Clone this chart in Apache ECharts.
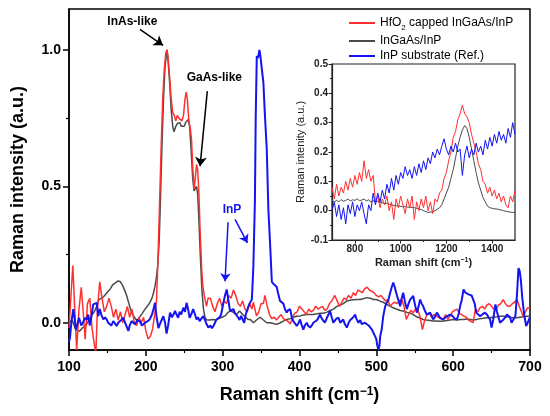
<!DOCTYPE html>
<html lang="en">
<head>
	<meta charset="UTF-8">
	<title>Raman spectra</title>
	<script src="https://cdn.jsdelivr.net/npm/echarts@6.0.0/dist/echarts.min.js"></script>
	<style>
		html, body { margin: 0; padding: 0; background: #fff; }
	</style>
</head>
<body>
	<div id="main" style="width: 550px; height: 416px;"></div>
	<script type="text/javascript">
	// series names
	var nameHfo2 = 'HfO2 capped InGaAs/InP';
	var nameIngaas = 'InGaAs/InP';
	var nameInp = 'InP substrate (Ref.)';

	// main panel, [Raman shift, intensity]
	var hfo2Main = [
		[100,-0.02],[103,0.12],[105,0.21],[107,0.08],[110,-0.10],[113,0.05],[116,0.13],[119,0.02],[121,-0.06],[124,0.07],
		[127,0.09],[130,-0.02],[133,-0.08],[135,-0.11],[137,0.05],[140,0.15],[143,0.09],[146,0.04],[149,0.06],[152,0.09],
		[155,0.06],[158,0.02],[161,0.05],[164,0.01],[167,0.04],[170,0.00],[173,0.03],[176,0.06],[179,0.02],[182,0.05],
		[185,0.00],[188,-0.01],[191,0.02],[194,0.00],[197,0.02],[200,-0.03],[203,-0.06],[206,-0.05],[209,-0.02],[212,0.04],
		[214,0.085],[216,0.25],[218,0.45],[220,0.65],[222,0.82],[224,0.93],[226,0.99],[227.6,1.0],[229,0.97],[231,0.90],
		[233,0.82],[235,0.77],[237,0.76],[239,0.74],[241,0.76],[243,0.75],[245,0.75],[247,0.74],[249,0.76],[251,0.82],
		[252.5,0.845],[254,0.82],[256,0.74],[258,0.71],[259.5,0.67],[261,0.57],[262.8,0.49],[264,0.52],[266,0.58],[267.5,0.56],
		[269,0.48],[270.5,0.35],[272.5,0.21],[274,0.14],[276,0.10],[279,0.06],[281,0.09],[284,0.09],[287,0.06],[290,0.04],
		[293,0.07],[296,0.09],[299,0.06],[302,0.08],[305,0.07],[308,0.10],[311,0.09],[314,0.12],[317,0.10],[320,0.07],
		[323,0.06],[326,0.08],[329,0.05],[332,0.04],[335,0.07],[338,0.05],[340,0.075],[342,0.05],[344,0.025],[347,0.04],
		[350,0.07],[353,0.07],[355,0.10],[358,0.06],[361,0.03],[364,0.015],[367,0.02],[370,0.01],[373,0.02],[376,0.03],
		[379,0.015],[382,0.01],[385,0.005],[388,-0.005],[391,0.02],[394,0.035],[397,0.04],[400,0.06],[403,0.05],[406,0.04],
		[409,0.03],[412,0.05],[415,0.04],[418,0.045],[421,0.06],[424,0.05],[427,0.055],[430,0.06],[433,0.045],[436,0.05],
		[439,0.07],[442,0.08],[446,0.10],[449,0.08],[452,0.06],[455,0.075],[458,0.09],[461,0.085],[464,0.10],[467,0.09],
		[470,0.11],[473,0.10],[476,0.12],[479,0.115],[482,0.11],[485,0.125],[488,0.13],[491,0.12],[494,0.115],[497,0.11],
		[500,0.10],[503,0.095],[506,0.10],[509,0.09],[512,0.08],[515,0.085],[518,0.06],[521,0.07],[524,0.075],[527,0.07],
		[530,0.08],[533,0.085],[536,0.06],[539,0.012],[542,0.03],[545,0.045],[548,0.037],[551,0.05],[554,0.05],[557,0.02],
		[560,-0.025],[563,0.01],[566,0.03],[569,0.035],[572,0.02],[575,0.03],[578,0.024],[581,0.02],[584,0.015],[587,0.01],
		[590,0.03],[593,0.012],[596,0.025],[599,0.04],[602,0.045],[605,0.05],[608,0.035],[611,0.03],[614,0.024],[617,0.02],
		[620,0.01],[623,0.005],[626,0.0],[629,0.05],[632,0.04],[635,0.055],[638,0.06],[641,0.05],[644,0.065],[647,0.07],
		[650,0.06],[653,0.05],[656,0.05],[659,0.065],[662,0.07],[665,0.085],[668,0.07],[671,0.06],[674,0.06],[677,0.07],
		[680,0.075],[683,0.085],[686,0.06],[689,0.04],[691,0.024],[694,0.04],[697,0.055],[700,0.05]
	];

	var ingaasMain = [
		[100,0.0],[104,0.01],[108,-0.02],[111,-0.03],[114,-0.03],[117,-0.02],[121,-0.012],[124,0.0],[127,0.015],[130,0.03],
		[133,0.04],[136,0.06],[139,0.085],[142,0.09],[145,0.095],[148,0.105],[151,0.115],[154,0.125],[157,0.14],[160,0.145],
		[164,0.153],[167,0.15],[170,0.135],[173,0.115],[175,0.10],[178,0.07],[181,0.04],[184,0.025],[187,0.012],[190,0.012],
		[193,0.025],[196,0.037],[199,0.05],[202,0.06],[205,0.073],[208,0.09],[210,0.11],[212,0.134],[214,0.17],[215.5,0.21],
		[217.4,0.30],[219,0.45],[221,0.65],[223,0.82],[225,0.94],[227.6,1.0],[229,0.96],[231,0.88],[233,0.78],[235,0.72],
		[236.7,0.70],[239,0.72],[241,0.73],[243,0.725],[244.5,0.733],[246,0.72],[248,0.715],[250,0.72],[252,0.735],[255.3,0.745],
		[257,0.72],[259.4,0.61],[261,0.53],[262.8,0.483],[264,0.49],[266,0.50],[267.5,0.47],[269,0.38],[271,0.24],[273,0.12],
		[275,0.05],[277,0.02],[279,0.01],[283,0.01],[287,0.012],[291,0.01],[295,0.015],[299,0.02],[303,0.025],[306,0.035],
		[309.6,0.043],[313,0.04],[318,0.03],[322,0.043],[326,0.03],[330,0.02],[333,0.012],[336,0.012],[340,0.0],[344,0.01],
		[348.7,0.02],[353,0.01],[357.4,0.0],[362,0.0],[366,-0.003],[370.4,-0.006],[375,0.0],[379,0.006],[383.4,0.012],[388,0.015],
		[392,0.02],[396.5,0.024],[401,0.025],[405,0.028],[410,0.03],[414,0.03],[418,0.03],[423,0.033],[427,0.035],[431,0.035],
		[435,0.038],[440,0.045],[444,0.05],[448.6,0.06],[453,0.065],[457,0.07],[461.6,0.08],[466,0.082],[470,0.084],[475,0.085],
		[479,0.085],[483,0.088],[487.6,0.092],[492,0.09],[496,0.085],[500,0.085],[504,0.08],[509,0.075],[513.7,0.067],[518,0.06],
		[522,0.055],[526,0.05],[531,0.045],[535,0.043],[540,0.038],[544,0.035],[548,0.03],[552,0.022],[556,0.018],[561,0.012],
		[565,0.01],[570,0.008],[574,0.006],[578,0.006],[583,0.005],[587,0.006],[592,0.008],[596,0.01],[600,0.012],[605,0.01],
		[609,0.012],[613,0.012],[618,0.014],[622,0.012],[626,0.01],[630,0.012],[635,0.015],[639,0.016],[644,0.018],[648,0.018],
		[652,0.02],[657,0.022],[661,0.024],[665.5,0.024],[670,0.022],[674,0.02],[678,0.018],[683,0.018],[687,0.02],[691,0.022],
		[696,0.024],[700,0.024]
	];

	var inpMain = [
		[100,-0.07],[101.3,-0.055],[103,0.0],[105.6,0.05],[107,0.02],[109,-0.025],[111,-0.005],[113,0.018],[116,-0.01],[118,0.0],
		[120.8,0.018],[123,0.01],[125,0.03],[127,-0.01],[129,0.02],[131.6,0.067],[134,0.06],[136,0.073],[138,0.024],[140,0.05],
		[142,0.03],[144.7,0.012],[147,0.02],[149,0.012],[151,0.0],[153.4,0.0],[155,-0.01],[157.7,0.006],[160,0.0],[162,-0.012],
		[164,0.0],[166.6,0.0],[168,0.01],[170.7,0.018],[173,0.0],[175,-0.006],[177.3,-0.03],[179,-0.01],[181.5,0.006],[184,0.0],
		[186,-0.006],[189,0.01],[192,0.006],[195,-0.01],[199,0.0],[202,0.005],[205,0.012],[208,0.03],[210,0.05],[212,0.073],
		[214,0.02],[216.4,-0.02],[219,0.0],[222.8,0.024],[225,0.0],[227,-0.04],[229,-0.01],[231.5,0.037],[234,0.02],[236,0.03],
		[238,0.043],[240,0.03],[242,0.018],[244,0.04],[246,0.03],[248.8,0.055],[251,0.04],[253,0.073],[255,0.05],[257,0.018],
		[259,0.03],[261.6,0.05],[264,0.03],[266,0.012],[268,0.02],[270,0.006],[272,0.01],[274.7,0.024],[277,0.01],[279,-0.005],
		[281.4,-0.018],[284,-0.01],[286,-0.02],[288,-0.012],[290,0.0],[292,0.012],[294,0.01],[296,0.02],[298,0.03],[301,0.073],
		[303,0.10],[305.3,0.122],[307,0.09],[309.6,0.043],[312,0.04],[314,0.05],[316,0.035],[318,0.03],[320,0.02],[322,0.01],
		[324,0.025],[326,0.02],[328,0.0],[330,0.03],[333.5,0.06],[335,0.07],[338,0.085],[340,0.21],[342,0.45],[343,0.75],
		[344.4,0.978],[346,0.97],[347.8,1.0],[349,0.98],[351,0.93],[353,0.88],[355,0.76],[357.4,0.635],[359.5,0.415],[361.7,0.29],
		[364,0.15],[367,0.14],[370.4,0.131],[372,0.11],[374.7,0.08],[377,0.085],[379,0.07],[381,0.05],[383.4,0.037],[385,0.045],
		[387.8,0.05],[390,0.02],[392,0.006],[394,0.0],[396.5,-0.012],[399,0.0],[400.8,0.012],[403,-0.01],[405,-0.025],[407,-0.01],
		[409.5,0.0],[411,-0.01],[413.8,-0.018],[416,-0.01],[418,0.0],[420,-0.006],[423,0.01],[426.8,0.03],[429,0.015],[431,0.01],
		[433,0.0],[436,0.02],[439.8,0.043],[442,0.02],[444,0.0],[446,0.005],[448,0.015],[450.8,0.018],[453,0.0],[455,0.005],
		[457,0.012],[459,-0.005],[461.6,-0.018],[464,0.0],[466,0.01],[468,0.012],[470,0.02],[472.4,0.03],[474,0.015],[476.7,0.0],
		[479,0.01],[481,-0.005],[483.3,-0.006],[485,0.0],[487.6,0.006],[490,-0.01],[492,-0.015],[494,-0.024],[496,-0.03],[498.4,-0.05],
		[500,-0.06],[501,-0.08],[502.7,-0.1],[504,-0.085],[505,-0.05],[507,-0.024],[509,0.024],[511.5,0.06],[513,0.07],[515.8,0.085],
		[518,0.11],[520,0.13],[522,0.147],[524,0.13],[527,0.098],[529,0.08],[531,0.06],[533,0.09],[535,0.11],[537,0.08],
		[539.7,0.05],[542,0.07],[544,0.085],[546,0.09],[548,0.098],[550,0.07],[552.7,0.037],[555,0.06],[557,0.085],[559,0.07],
		[561,0.06],[563,0.045],[565.7,0.03],[568,0.035],[570,0.037],[572,0.025],[574,0.012],[576,0.02],[578.8,0.037],[581,0.03],
		[583,0.018],[585,0.015],[587,0.012],[590,0.02],[593,0.025],[596,0.03],[599,0.025],[602,0.015],[604.8,0.012],[607,0.03],
		[609,0.06],[611.3,0.085],[613.5,0.122],[616,0.11],[618,0.105],[620,0.104],[622,0.11],[624,0.10],[626,0.098],[628,0.07],
		[630,0.037],[632,0.03],[635,0.024],[638,0.03],[641,0.037],[644,0.03],[646,0.02],[648,0.012],[650,-0.018],[652,0.01],
		[655,0.067],[657,0.04],[659,0.02],[661,0.0],[663,0.005],[665.5,0.012],[668,0.02],[670,0.03],[672,0.037],[674,0.02],
		[676,0.0],[678,0.01],[681,0.024],[683,0.1],[685,0.2],[686.5,0.19],[688,0.16],[690,0.09],[691.6,0.05],[693,0.02],
		[695,-0.012],[697,0.0],[700,0.02]
	];

	// inset panel (700-1500 cm-1)
	var hfo2Inset = [
		[700,0.08],[710,0.04],[720,0.09],[730,0.05],[740,0.08],[750,0.06],[760,0.10],[770,0.07],[780,0.11],[790,0.08],
		[800,0.12],[810,0.09],[820,0.13],[830,0.10],[840,0.17],[850,0.11],[860,0.14],[870,0.10],[880,0.12],[890,0.03],
		[900,0.05],[910,0.01],[920,0.04],[930,0.02],[940,0.05],[950,0.00],[960,0.03],[970,-0.03],[980,0.04],[990,0.01],
		[1000,0.05],[1010,0.02],[1020,-0.01],[1030,0.04],[1040,0.01],[1050,0.05],[1060,-0.03],[1070,0.03],[1080,0.00],[1090,0.04],
		[1100,0.01],[1110,0.05],[1120,0.00],[1130,0.03],[1140,-0.01],[1150,0.04],[1160,0.03],[1170,0.06],[1180,0.07],[1190,0.11],
		[1200,0.13],[1210,0.17],[1220,0.20],[1230,0.25],[1240,0.27],[1250,0.31],[1260,0.33],[1270,0.36],[1280,0.33],[1290,0.32],
		[1300,0.30],[1310,0.26],[1320,0.23],[1330,0.20],[1340,0.16],[1350,0.14],[1360,0.10],[1370,0.09],[1380,0.06],[1390,0.08],
		[1400,0.05],[1410,0.07],[1420,0.04],[1430,0.06],[1440,0.03],[1450,0.05],[1460,0.02],[1470,0.01],[1480,0.05],[1490,0.03],
		[1500,0.07]
	];

	var ingaasInset = [
		[700,0.035],[710,0.03],[720,0.035],[730,0.03],[740,0.038],[750,0.032],[760,0.035],[770,0.04],[780,0.033],[790,0.037],
		[800,0.035],[810,0.04],[820,0.034],[830,0.036],[840,0.04],[850,0.033],[860,0.037],[870,0.03],[880,0.034],[890,0.03],
		[900,0.032],[910,0.028],[920,0.027],[930,0.024],[940,0.026],[950,0.022],[960,0.02],[970,0.018],[980,0.017],[990,0.016],
		[1000,0.015],[1010,0.013],[1020,0.014],[1030,0.012],[1040,0.012],[1050,0.011],[1060,0.01],[1070,0.008],[1080,0.006],[1090,0.004],
		[1100,0.0],[1110,-0.003],[1120,-0.006],[1130,-0.005],[1140,-0.004],[1150,0.0],[1160,0.004],[1170,0.01],[1180,0.02],[1190,0.04],
		[1200,0.06],[1210,0.08],[1220,0.11],[1230,0.14],[1240,0.18],[1250,0.22],[1260,0.25],[1270,0.275],[1280,0.29],[1290,0.28],
		[1300,0.25],[1310,0.21],[1320,0.17],[1330,0.13],[1340,0.095],[1350,0.07],[1360,0.045],[1370,0.03],[1380,0.015],[1390,0.01],
		[1400,0.008],[1410,0.006],[1420,0.006],[1430,0.004],[1440,0.002],[1450,0.0],[1460,-0.002],[1470,-0.004],[1480,-0.005],[1490,-0.006],
		[1500,-0.006]
	];

	var inpInset = [
		[700,0.0],[710,0.03],[720,-0.02],[730,0.02],[740,-0.03],[750,0.01],[760,-0.045],[770,0.02],[780,-0.01],[790,0.03],
		[800,-0.02],[810,0.02],[820,0.0],[830,0.03],[840,-0.01],[850,-0.045],[860,0.02],[870,0.0],[880,0.06],[890,0.02],
		[900,0.06],[910,0.03],[920,0.07],[930,0.04],[940,0.09],[950,0.06],[960,0.11],[970,0.07],[980,0.12],[990,0.09],
		[1000,0.13],[1010,0.11],[1020,0.15],[1030,0.12],[1040,0.14],[1050,0.11],[1060,0.15],[1070,0.12],[1080,0.16],[1090,0.13],
		[1100,0.17],[1110,0.14],[1120,0.18],[1130,0.16],[1140,0.20],[1150,0.18],[1160,0.21],[1170,0.19],[1180,0.22],[1190,0.245],
		[1200,0.21],[1210,0.19],[1220,0.22],[1230,0.20],[1240,0.23],[1250,0.20],[1260,0.21],[1270,0.12],[1280,0.19],[1290,0.22],
		[1300,0.18],[1310,0.21],[1320,0.19],[1330,0.23],[1340,0.20],[1350,0.22],[1360,0.19],[1370,0.24],[1380,0.21],[1390,0.25],
		[1400,0.22],[1410,0.26],[1420,0.23],[1430,0.27],[1440,0.24],[1450,0.26],[1460,0.23],[1470,0.28],[1480,0.25],[1490,0.30],
		[1500,0.26]
	];

	// tick labels
	var mainYLabels = [0, 0.5, 1.0];
	var mainYMinor = [0.25, 0.75];
	var insetXLabels = [800, 1000, 1200, 1400];
	var insetXMinor = [900, 1100, 1300];

	var colorHfo2 = '#ff3030';
	var colorIngaas = '#4a4a4a';
	var colorInp = '#1414f0';
	var font = '"Liberation Sans", Arial, sans-serif';

	var chart = echarts.init(document.getElementById('main'));

	var option = {
		animation: false,
		textStyle: { fontFamily: font },
		grid: [
			{ left: 69, top: 9, right: 20, bottom: 66, show: true, borderColor: '#000', borderWidth: 1.5 },
			{ left: 332, top: 64, right: 35, bottom: 176, show: true, borderColor: '#222', borderWidth: 1.2, backgroundColor: '#fff' }
		],
		legend: {
			data: [nameHfo2, nameIngaas, nameInp],
			orient: 'vertical',
			left: 349,
			top: 17,
			padding: 0,
			icon: 'rect',
			itemWidth: 26,
			itemHeight: 2,
			itemGap: 3,
			textStyle: {
				fontSize: 12, color: '#000', fontFamily: font,
				rich: {
					n: { fontSize: 12, color: '#000', fontFamily: font },
					sub: { fontSize: 8, color: '#000', fontFamily: font, verticalAlign: 'bottom', lineHeight: 18 }
				}
			},
			formatter: function (name) {
				if (name === nameHfo2) return '{n|HfO}{sub|2}{n| capped InGaAs/InP}';
				return name;
			}
		},
		xAxis: [
			{
				gridIndex: 0, type: 'value', min: 100, max: 700, interval: 100, position: 'bottom',
				axisLine: { onZero: false, lineStyle: { color: '#000', width: 1.5 } },
				axisTick: { length: 6, lineStyle: { color: '#000', width: 1.5 } },
				minorTick: { show: true, splitNumber: 2, length: 3, lineStyle: { color: '#000', width: 1.2 } },
				splitLine: { show: false },
				axisLabel: { fontSize: 14, fontWeight: 'bold', color: '#000', margin: 10 },
				name: '{t|Raman shift (cm}{s|\u22121}{t|)}',
				nameLocation: 'middle',
				nameGap: 36,
				nameTextStyle: {
					rich: {
						t: { fontSize: 18, fontWeight: 'bold', color: '#000', fontFamily: font },
						s: { fontSize: 12, fontWeight: 'bold', color: '#000', fontFamily: font, verticalAlign: 'top' }
					}
				}
			},
			{
				gridIndex: 1, type: 'value', min: 700, max: 1500, position: 'bottom',
				axisLine: { onZero: false, lineStyle: { color: '#222', width: 1.2 } },
				axisTick: { length: 3.5, customValues: insetXLabels, lineStyle: { color: '#222', width: 1 } },
				splitLine: { show: false },
				axisLabel: {
					fontSize: 10, fontWeight: 'bold', color: '#222', margin: 4, customValues: insetXLabels,
					formatter: function (v) { return String(v); }
				},
				name: '{t|Raman shift (cm}{s|\u22121}{t|)}',
				nameLocation: 'middle',
				nameGap: 17,
				nameTextStyle: {
					rich: {
						t: { fontSize: 11, fontWeight: 'bold', color: '#222', fontFamily: font },
						s: { fontSize: 7, fontWeight: 'bold', color: '#222', fontFamily: font, verticalAlign: 'top' }
					}
				}
			},
			{
				gridIndex: 1, type: 'value', min: 700, max: 1500, position: 'bottom',
				axisLine: { show: false, onZero: false },
				axisTick: { length: 2, customValues: insetXMinor, lineStyle: { color: '#222', width: 1 } },
				axisLabel: { show: false },
				splitLine: { show: false }
			}
		],
		yAxis: [
			{
				gridIndex: 0, type: 'value', min: -0.1, max: 1.15, position: 'left',
				axisLine: { show: true, onZero: false, lineStyle: { color: '#000', width: 1.5 } },
				axisTick: { show: true, length: 6, customValues: mainYLabels, lineStyle: { color: '#000', width: 1.5 } },
				splitLine: { show: false },
				axisLabel: {
					fontSize: 14, fontWeight: 'bold', color: '#000', margin: 8, customValues: mainYLabels,
					formatter: function (v) { return v.toFixed(1); }
				},
				name: 'Raman intensity (a.u.)',
				nameLocation: 'middle',
				nameGap: 42,
				nameTextStyle: { fontSize: 18, fontWeight: 'bold', color: '#000' }
			},
			{
				gridIndex: 0, type: 'value', min: -0.1, max: 1.15, position: 'left',
				axisLine: { show: false, onZero: false },
				axisTick: { show: true, length: 3, customValues: mainYMinor, lineStyle: { color: '#000', width: 1.2 } },
				axisLabel: { show: false },
				splitLine: { show: false }
			},
			{
				gridIndex: 1, type: 'value', min: -0.1, max: 0.5, interval: 0.1, position: 'left',
				axisLine: { show: true, onZero: false, lineStyle: { color: '#222', width: 1.2 } },
				axisTick: { show: true, length: 3.5, lineStyle: { color: '#222', width: 1 } },
				minorTick: { show: true, splitNumber: 2, length: 2, lineStyle: { color: '#222', width: 1 } },
				splitLine: { show: false },
				axisLabel: {
					fontSize: 10, fontWeight: 'bold', color: '#222', margin: 4,
					formatter: function (v) { return v.toFixed(1); }
				},
				name: 'Raman intenity (a.u.)',
				nameLocation: 'middle',
				nameGap: 19,
				nameTextStyle: { fontSize: 11, color: '#222' }
			}
		],
		series: [
			{
				name: nameIngaas, type: 'line', xAxisIndex: 0, yAxisIndex: 0,
				data: ingaasMain, symbol: 'none', color: colorIngaas,
				lineStyle: { width: 1.5, color: colorIngaas },
				markLine: {
					silent: true, symbol: ['none', 'arrow'], symbolSize: 9,
					label: { show: false },
					lineStyle: { color: '#000', width: 1.5, type: 'solid' },
					data: [
						[{ coord: [192.4, 1.075] }, { coord: [222.4, 1.017] }],
						[{ coord: [280, 0.849] }, { coord: [270.6, 0.574] }]
					]
				}
			},
			{
				name: nameHfo2, type: 'line', xAxisIndex: 0, yAxisIndex: 0,
				data: hfo2Main, symbol: 'none', color: colorHfo2,
				lineStyle: { width: 1.5, color: colorHfo2 }
			},
			{
				name: nameInp, type: 'line', xAxisIndex: 0, yAxisIndex: 0,
				data: inpMain, symbol: 'none', color: colorInp,
				lineStyle: { width: 2, color: colorInp },
				markLine: {
					silent: true, symbol: ['none', 'arrow'], symbolSize: 8,
					label: { show: false },
					lineStyle: { color: colorInp, width: 1.5, type: 'solid' },
					data: [
						[{ coord: [307, 0.368] }, { coord: [303.1, 0.152] }],
						[{ coord: [316.1, 0.379] }, { coord: [332.2, 0.293] }]
					]
				}
			},
			{
				name: nameIngaas, type: 'line', xAxisIndex: 1, yAxisIndex: 2,
				data: ingaasInset, symbol: 'none', color: colorIngaas,
				lineStyle: { width: 1, color: colorIngaas }
			},
			{
				name: nameHfo2, type: 'line', xAxisIndex: 1, yAxisIndex: 2,
				data: hfo2Inset, symbol: 'none', color: colorHfo2,
				lineStyle: { width: 1, color: colorHfo2 }
			},
			{
				name: nameInp, type: 'line', xAxisIndex: 1, yAxisIndex: 2,
				data: inpInset, symbol: 'none', color: colorInp,
				lineStyle: { width: 1, color: colorInp }
			}
		]
	};
	chart.setOption(option);

	// peak annotations, placed in data coordinates
	var notes = [
		{ text: 'InAs-like', at: [182.4, 1.103], fill: '#000' },
		{ text: 'GaAs-like', at: [289.2, 0.90], fill: '#000' },
		{ text: 'InP', at: [312.2, 0.416], fill: colorInp }
	];
	var elements = notes.map(function (n) {
		var p = chart.convertToPixel({ xAxisIndex: 0, yAxisIndex: 0 }, n.at);
		return {
			type: 'text', x: p[0], y: p[1], silent: true, z: 100,
			style: {
				text: n.text, fill: n.fill, textAlign: 'center', textVerticalAlign: 'middle',
				font: 'bold 12px ' + font
			}
		};
	});
	chart.setOption({ graphic: { elements: elements } });
	</script>
</body>
</html>
